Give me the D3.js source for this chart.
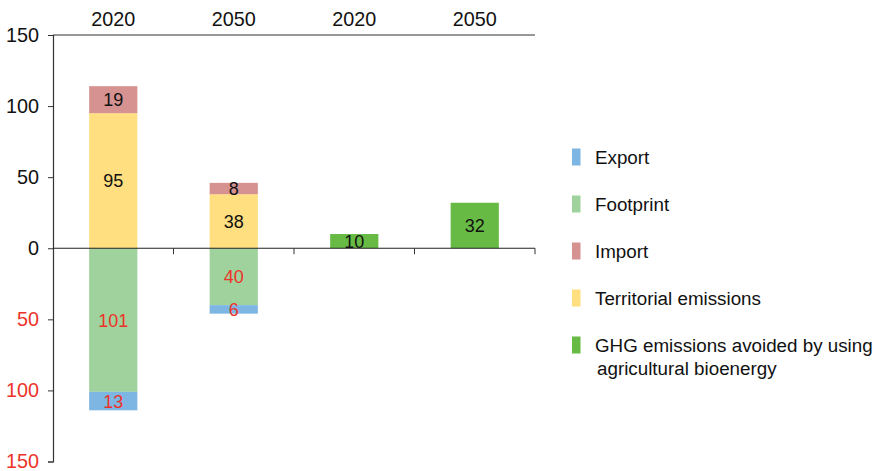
<!DOCTYPE html>
<html>
<head>
<meta charset="utf-8">
<script src="https://cdn.jsdelivr.net/npm/d3@7"></script>
<style>
  html, body { margin: 0; padding: 0; background: #fff; }
  svg text { font-family: "Liberation Sans", Arial, Helvetica, sans-serif; }
</style>
</head>
<body>
<svg id="chart" width="874" height="471"></svg>
<script>
// Column labels (two scenario years for emissions, two for avoided emissions)
const categories = ["2020", "2050", "2020", "2050"];

// Positive stack (above zero)
const territorial = [95, 38, 0, 0];
const imports = [19, 8, 0, 0];
// Negative stack (below zero), stored as magnitudes
const footprint = [101, 40, 0, 0];
const exports = [13, 6, 0, 0];
// Avoided emissions from agricultural bioenergy
const avoided = [0, 0, 10, 32];

const yTicks = [150, 100, 50, 0, -50, -100, -150];

const legendLabels = ["Export", "Footprint", "Import", "Territorial emissions",
  ["GHG emissions avoided by using", "agricultural bioenergy"]];

const colors = {
  export: "#7db6e3",
  footprint: "#9fd29c",
  import: "#d59291",
  territorial: "#ffdf7f",
  avoided: "#67bb45"
};
const red = "#ec3329";

const svg = d3.select("#chart");

const x = d3.scaleBand()
  .domain(d3.range(categories.length))
  .range([53, 535])
  .paddingInner(0.6)
  .paddingOuter(0.3);

const y = d3.scaleLinear().domain([-150, 150]).range([461.5, 35]);

// Segment list: each with start/end values
const segments = [];
categories.forEach((c, i) => {
  let pos = 0;
  [["territorial", territorial[i]], ["import", imports[i]], ["avoided", avoided[i]]].forEach(([k, v]) => {
    if (v > 0) { segments.push({ i, key: k, y0: pos, y1: pos + v, v }); pos += v; }
  });
  let neg = 0;
  [["footprint", footprint[i]], ["export", exports[i]]].forEach(([k, v]) => {
    if (v > 0) { segments.push({ i, key: k, y0: neg, y1: neg - v, v, neg: true }); neg -= v; }
  });
});

svg.append("g").selectAll("rect")
  .data(segments)
  .join("rect")
  .attr("x", d => x(d.i))
  .attr("width", x.bandwidth())
  .attr("y", d => y(Math.max(d.y0, d.y1)))
  .attr("height", d => Math.abs(y(d.y0) - y(d.y1)))
  .attr("fill", d => colors[d.key]);

svg.append("g").selectAll("text")
  .data(segments)
  .join("text")
  .attr("x", d => x(d.i) + x.bandwidth() / 2)
  .attr("y", d => y((d.y0 + d.y1) / 2))
  .attr("dy", "0.36em")
  .attr("text-anchor", "middle")
  .attr("font-size", 18)
  .attr("fill", d => d.neg ? red : "#111")
  .text(d => d.v);

// Left axis
const yAxis = d3.axisLeft(y)
  .tickValues(yTicks)
  .tickSize(5)
  .tickPadding(9)
  .tickFormat(d => Math.abs(d));

const ag = svg.append("g").attr("transform", "translate(53,0)").call(yAxis);
ag.select(".domain").attr("stroke", "#333").attr("stroke-width", 1.2);
ag.selectAll(".tick line").attr("stroke", "#333");
ag.selectAll(".tick text")
  .attr("font-size", 19.8)
  .attr("font-family", "'Liberation Sans', Arial, Helvetica, sans-serif")
  .attr("fill", d => d < 0 ? red : "#111");

// Top line with column labels
svg.append("line")
  .attr("x1", 53).attr("x2", 535)
  .attr("y1", y(150)).attr("y2", y(150))
  .attr("stroke", "#333").attr("stroke-width", 1.2);

svg.append("g").selectAll("text")
  .data(categories)
  .join("text")
  .attr("x", (d, i) => x(i) + x.bandwidth() / 2)
  .attr("y", 26)
  .attr("text-anchor", "middle")
  .attr("font-size", 19.8)
  .attr("fill", "#111")
  .text(d => d);

// Zero line with tick marks at column boundaries
svg.append("line")
  .attr("x1", 53).attr("x2", 535)
  .attr("y1", y(0)).attr("y2", y(0))
  .attr("stroke", "#222").attr("stroke-width", 1.2);

svg.append("g").selectAll("line")
  .data(d3.range(1, categories.length + 1))
  .join("line")
  .attr("x1", i => 53 + i * x.step())
  .attr("x2", i => 53 + i * x.step())
  .attr("y1", y(0)).attr("y2", y(0) + 6)
  .attr("stroke", "#333");

// Legend
const legendKeys = ["export", "footprint", "import", "territorial", "avoided"];
const lg = svg.append("g").selectAll("g")
  .data(legendKeys)
  .join("g")
  .attr("transform", (d, i) => `translate(572,${157 + i * 47})`);

lg.append("rect")
  .attr("x", 0).attr("y", -8.5)
  .attr("width", 8.5).attr("height", 17)
  .attr("fill", d => colors[d]);

lg.append("text")
  .attr("x", 23)
  .attr("y", 0)
  .attr("dy", "0.36em")
  .attr("font-size", 18.8)
  .attr("fill", "#111")
  .each(function (d, i) {
    const lab = legendLabels[i];
    const t = d3.select(this);
    if (Array.isArray(lab)) {
      t.append("tspan").attr("x", 23).text(lab[0]);
      t.append("tspan").attr("x", 25).attr("dy", 23).text(lab[1]);
    } else {
      t.text(lab);
    }
  });
</script>
</body>
</html>
